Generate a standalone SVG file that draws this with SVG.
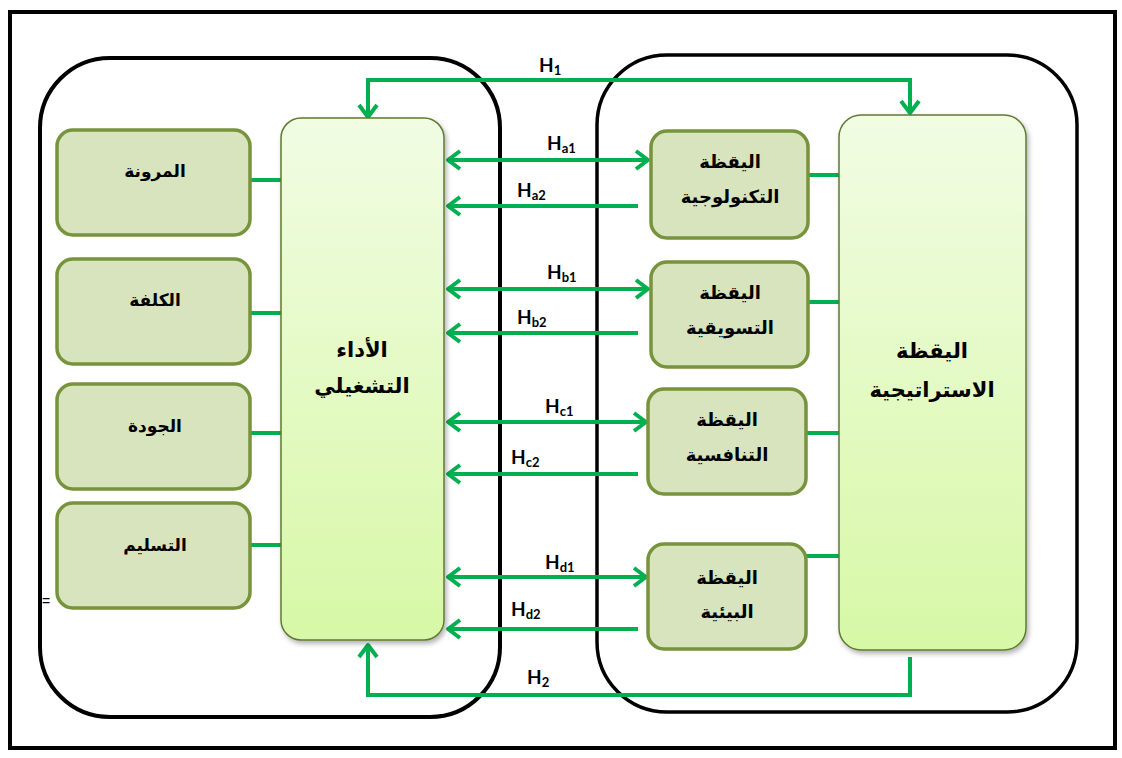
<svg xmlns="http://www.w3.org/2000/svg" width="1122" height="758" viewBox="0 0 1122 758">
<style>
.frame{fill:#fff;stroke:#000;stroke-width:4}
.cont{fill:none;stroke:#000;stroke-width:4}
.sub{fill:#d7e4bd;stroke:#77933c;stroke-width:3.5}
.big{fill:url(#g);stroke:#5f7a32;stroke-width:1.5;filter:url(#sh)}
.ar{font-family:"DejaVu Sans","Noto Sans",sans-serif;font-weight:bold;fill:#000;text-anchor:middle}
.s{font-size:17px}
.r{font-size:18px}
.b{font-size:21px}
.h{font-family:Lato,"Open Sans","Liberation Sans",sans-serif;font-weight:bold;font-size:19px;fill:#000}
.h tspan{font-size:13px}
.ln{fill:none;stroke:#00b050;stroke-width:4}
.arw{marker-end:url(#m)}
.dbl{marker-start:url(#m);marker-end:url(#m)}
</style>
<defs>
<linearGradient id="g" x1="0" y1="0" x2="0" y2="1">
<stop offset="0" stop-color="#f1fce3"/>
<stop offset="1" stop-color="#d7f8a6"/>
</linearGradient>
<filter id="sh" x="-10%" y="-5%" width="125%" height="115%">
<feDropShadow dx="2" dy="3" stdDeviation="2.5" flood-color="#000" flood-opacity="0.3"/>
</filter>
<marker id="m" markerUnits="userSpaceOnUse" viewBox="-16 -16 32 32" markerWidth="32" markerHeight="32" refX="0" refY="0" orient="auto-start-reverse" overflow="visible">
<path d="M-12,-9 L0,0 L-12,9" fill="none" stroke="#00b050" stroke-width="4" stroke-linejoin="round"/>
</marker>
</defs>
<rect class="frame" x="10" y="12" width="1105" height="736"/>
<g id="container-left"><rect class="cont" x="40" y="58" width="460" height="659" rx="70"/></g>
<g id="container-right"><rect class="cont" x="597" y="55" width="480" height="657" rx="70" style="stroke-width:3.5"/></g>
<text x="42" y="606" style="font-family:'Liberation Sans',sans-serif;font-size:14px">=</text>

<g id="connectors">
<line class="ln" x1="250" y1="180" x2="283" y2="180"/>
<line class="ln" x1="250" y1="313" x2="283" y2="313"/>
<line class="ln" x1="250" y1="433" x2="283" y2="433"/>
<line class="ln" x1="250" y1="545" x2="283" y2="545"/>
<line class="ln" x1="808" y1="175" x2="839" y2="175"/>
<line class="ln" x1="808" y1="302" x2="839" y2="302"/>
<line class="ln" x1="806" y1="433" x2="839" y2="433"/>
<line class="ln" x1="806" y1="556" x2="839" y2="556"/>
<path class="ln dbl" d="M368,117 L368,80 L910,80 L910,113"/>
<path class="ln arw" d="M910,657 L910,695 L368,695 L368,645"/>
<path class="ln dbl" d="M448,160 L648,160"/>
<path class="ln arw" d="M638,206 L448,206"/>
<path class="ln dbl" d="M448,289 L648,289"/>
<path class="ln arw" d="M638,333 L448,333"/>
<path class="ln dbl" d="M448,422 L646,422"/>
<path class="ln arw" d="M638,474 L448,474"/>
<path class="ln dbl" d="M448,577 L646,577"/>
<path class="ln arw" d="M638,629 L448,629"/>
<text class="h" x="539" y="72">H<tspan dy="3">1</tspan></text>
<text class="h" x="547" y="150">H<tspan dy="3">a1</tspan></text>
<text class="h" x="517" y="197">H<tspan dy="3">a2</tspan></text>
<text class="h" x="547" y="279">H<tspan dy="3">b1</tspan></text>
<text class="h" x="517" y="324">H<tspan dy="3">b2</tspan></text>
<text class="h" x="545" y="413">H<tspan dy="3">c1</tspan></text>
<text class="h" x="511" y="464">H<tspan dy="3">c2</tspan></text>
<text class="h" x="545" y="569">H<tspan dy="3">d1</tspan></text>
<text class="h" x="511" y="616">H<tspan dy="3">d2</tspan></text>
<text class="h" x="527" y="684">H<tspan dy="3">2</tspan></text>
</g>

<g id="flexibility"><rect class="sub" x="57" y="130" width="193" height="105" rx="16"/><text class="ar s" x="155" y="177">المرونة</text></g>
<g id="cost"><rect class="sub" x="57" y="259" width="193" height="105" rx="16"/><text class="ar s" x="155" y="306">الكلفة</text></g>
<g id="quality"><rect class="sub" x="57" y="384" width="193" height="105" rx="16"/><text class="ar s" x="155" y="432">الجودة</text></g>
<g id="delivery"><rect class="sub" x="57" y="503" width="193" height="105" rx="16"/><text class="ar s" x="155" y="551">التسليم</text></g>

<g id="operational-performance"><rect class="big" x="281" y="118" width="163" height="522" rx="20"/><text class="ar b" x="362" y="357">الأداء</text><text class="ar b" x="362" y="393">التشغيلي</text></g>

<g id="strategic-watch"><rect class="big" x="839" y="115" width="187" height="535" rx="22"/><text class="ar b" x="932" y="358">اليقظة</text><text class="ar b" x="932" y="397">الاستراتيجية</text></g>

<g id="tech-watch"><rect class="sub" x="651" y="131" width="157" height="107" rx="16"/><text class="ar r" x="730" y="168">اليقظة</text><text class="ar r" x="730" y="203">التكنولوجية</text></g>
<g id="marketing-watch"><rect class="sub" x="651" y="262" width="157" height="105" rx="16"/><text class="ar r" x="730" y="299">اليقظة</text><text class="ar r" x="730" y="334">التسويقية</text></g>
<g id="competitive-watch"><rect class="sub" x="648" y="389" width="158" height="105" rx="16"/><text class="ar r" x="727" y="426">اليقظة</text><text class="ar r" x="727" y="461">التنافسية</text></g>
<g id="environmental-watch"><rect class="sub" x="648" y="544" width="158" height="105" rx="16"/><text class="ar r" x="727" y="584">اليقظة</text><text class="ar r" x="727" y="618">البيئية</text></g>
</svg>
